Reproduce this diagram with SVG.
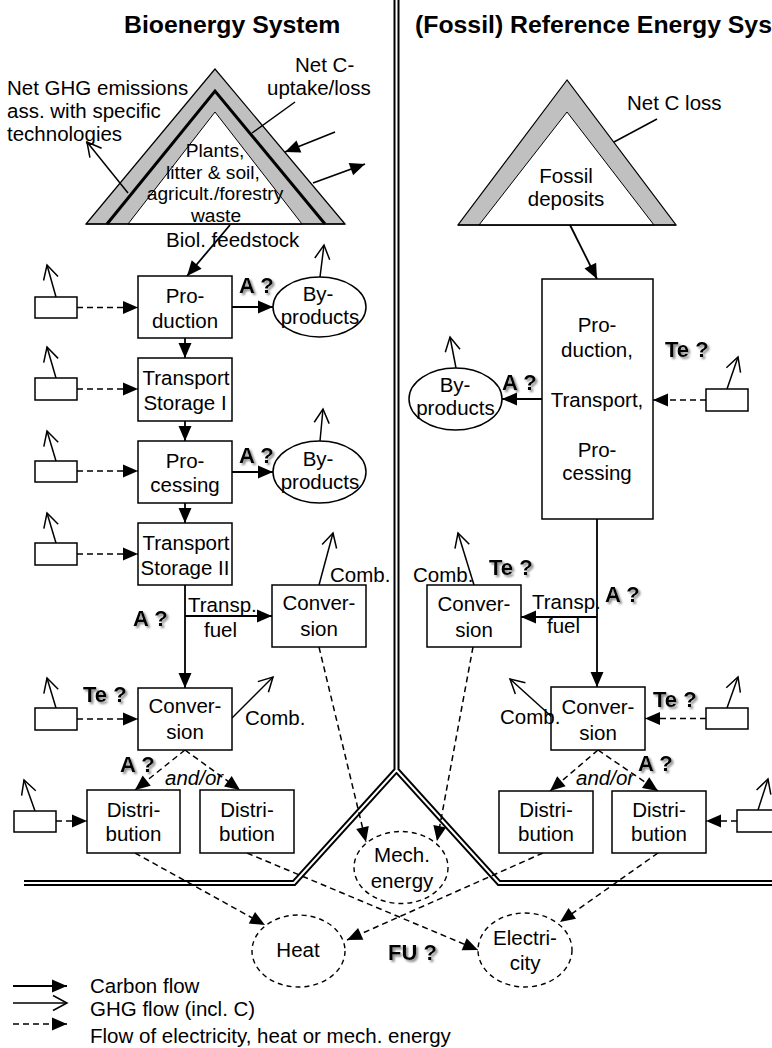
<svg xmlns="http://www.w3.org/2000/svg" width="772" height="1048" viewBox="0 0 772 1048">
<style>
.t{font-family:"Liberation Sans",Arial,Helvetica,sans-serif;font-size:20.5px;fill:#000}
.s{font-size:19.2px}
.m{text-anchor:middle}
.b{font-weight:bold;font-size:22px;filter:url(#sh)}
.i{font-style:italic}
.h{font-family:"Liberation Sans",Arial,Helvetica,sans-serif;font-weight:bold;font-size:24.8px;fill:#000}
.box{fill:#fff;stroke:#000;stroke-width:1.5}
.el{fill:#fff;stroke:#000;stroke-width:1.5}
.de{fill:#fff;stroke:#000;stroke-width:1.4;stroke-dasharray:5,4}
.c{fill:none;stroke:#000;stroke-width:1.8;marker-end:url(#fa)}
.g{fill:none;stroke:#000;stroke-width:1.5;marker-end:url(#oa)}
.d{fill:none;stroke:#000;stroke-width:1.5;stroke-dasharray:6,4;marker-end:url(#fa)}
.ln{fill:none;stroke:#000;stroke-width:1.5}
.gray{fill:#c0c0c0;stroke:#000;stroke-width:1.2}
.wt{fill:#fff;stroke:#000;stroke-width:1}
</style>
<defs>
<marker id="fa" markerWidth="16" markerHeight="14" refX="15" refY="6.5" orient="auto" markerUnits="userSpaceOnUse" overflow="visible"><path d="M0,0 L15,6.5 L0,13 z" fill="#000"/></marker>
<marker id="oa" markerWidth="16" markerHeight="16" refX="15" refY="7.5" orient="auto" markerUnits="userSpaceOnUse" overflow="visible"><path d="M1,0 L15,7.5 L1,15" fill="none" stroke="#000" stroke-width="1.5"/></marker>
<filter id="sh" x="-10%" y="-20%" width="130%" height="150%"><feGaussianBlur in="SourceAlpha" stdDeviation="0.8"/><feOffset dx="1.5" dy="1.5" result="o"/><feFlood flood-color="#888"/><feComposite in2="o" operator="in"/><feMerge><feMergeNode/><feMergeNode in="SourceGraphic"/></feMerge></filter>
</defs>
<rect width="772" height="1048" fill="#fff"/>

<g id="titles">
<text class="h" x="124" y="33">Bioenergy System</text>
<text class="h" x="415" y="33">(Fossil) Reference Energy Sys</text>
</g>

<g id="divider">
<path d="M396.5,0 V772 M24,883 H294 L396.5,770 L499,883 H772" fill="none" stroke="#000" stroke-width="6"/>
<path d="M396.5,0 V772 M24,883 H294 L396.5,770 L499,883 H772" fill="none" stroke="#fff" stroke-width="2"/>
</g>

<g id="bio-stock">
<polygon class="gray" points="215,69 86,224 345,224"/>
<polyline points="107,224 215,91 325,224" fill="none" stroke="#000" stroke-width="3"/>
<polygon class="wt" points="215,112 128,224 302,224"/>
<line x1="86" y1="224" x2="345" y2="224" stroke="#000" stroke-width="1.5"/>
<text class="t s m" x="215" y="157">Plants,</text>
<text class="t s m" x="213" y="178.5">litter &amp; soil,</text>
<text class="t s m" x="215" y="200">agricult./forestry</text>
<text class="t s m" x="216" y="221.5">waste</text>
</g>

<g id="fossil-stock">
<polygon class="gray" points="567,80 458,225 676,225"/>
<polygon class="wt" points="567,112 479,225 654,225"/>
<line x1="458" y1="225" x2="676" y2="225" stroke="#000" stroke-width="1.5"/>
<text class="t m" x="566" y="183">Fossil</text>
<text class="t m" x="566" y="206">deposits</text>
</g>

<g id="connectors">
<line class="ln" x1="295" y1="102" x2="252" y2="133"/>
<line class="ln" x1="657" y1="119" x2="614" y2="142"/>
<line class="c" x1="335" y1="132" x2="285" y2="152"/>
<line class="c" x1="313" y1="183" x2="365" y2="164"/>
<line class="g" x1="128" y1="193" x2="87" y2="142"/>
<line class="c" x1="230" y1="225" x2="187" y2="276"/>
<line class="c" x1="232" y1="307" x2="273" y2="307"/>
<line class="c" x1="185" y1="338" x2="185" y2="358"/>
<line class="c" x1="185" y1="421" x2="185" y2="441"/>
<line class="c" x1="232" y1="472" x2="273" y2="472"/>
<line class="c" x1="185" y1="503" x2="185" y2="523"/>
<line class="c" x1="185" y1="585" x2="185" y2="688"/>
<line class="c" x1="185" y1="616" x2="272" y2="616"/>
<line class="g" x1="320" y1="277" x2="324" y2="245"/>
<line class="g" x1="320" y1="441" x2="323" y2="409"/>
<line class="g" x1="56" y1="297" x2="47" y2="265"/>
<line class="g" x1="56" y1="378" x2="47" y2="347"/>
<line class="g" x1="56" y1="461" x2="47" y2="431"/>
<line class="g" x1="56" y1="543" x2="47" y2="513"/>
<line class="g" x1="56" y1="708" x2="47" y2="678"/>
<line class="g" x1="35" y1="811" x2="24" y2="780"/>
<line class="g" x1="319" y1="585" x2="333" y2="533"/>
<line class="g" x1="232" y1="718" x2="273" y2="677"/>
<line class="d" x1="77" y1="307.5" x2="138" y2="307.5"/>
<line class="d" x1="77" y1="389" x2="138" y2="389"/>
<line class="d" x1="77" y1="471" x2="138" y2="471"/>
<line class="d" x1="77" y1="554" x2="138" y2="554"/>
<line class="d" x1="77" y1="719" x2="138" y2="719"/>
<line class="d" x1="56" y1="821" x2="87" y2="821"/>
<line class="d" x1="185" y1="750" x2="135" y2="790"/>
<line class="d" x1="185" y1="750" x2="240" y2="790"/>
<line class="d" x1="319" y1="647" x2="366" y2="842"/>
<line class="d" x1="135" y1="853" x2="265" y2="925"/>
<line class="d" x1="247" y1="853" x2="478" y2="950"/>

<line class="c" x1="570" y1="225" x2="597" y2="279"/>
<line class="c" x1="542" y1="399" x2="502" y2="399"/>
<line class="c" x1="597" y1="519" x2="597" y2="687"/>
<line class="c" x1="597" y1="617" x2="521" y2="617"/>
<line class="g" x1="456" y1="368" x2="450" y2="337"/>
<line class="g" x1="727" y1="389" x2="738" y2="357"/>
<line class="g" x1="474" y1="585" x2="458" y2="533"/>
<line class="g" x1="552" y1="717" x2="510" y2="679"/>
<line class="g" x1="727" y1="708" x2="738" y2="677"/>
<line class="g" x1="758" y1="810" x2="768" y2="779"/>
<line class="d" x1="706" y1="400" x2="653" y2="400"/>
<line class="d" x1="706" y1="718.5" x2="645" y2="718.5"/>
<line class="d" x1="737" y1="821" x2="706" y2="821"/>
<line class="d" x1="598" y1="750" x2="550" y2="791"/>
<line class="d" x1="598" y1="750" x2="658" y2="791"/>
<line class="d" x1="473" y1="647" x2="437" y2="841"/>
<line class="d" x1="543" y1="853" x2="347" y2="940"/>
<line class="d" x1="658" y1="853" x2="560" y2="922"/>
</g>

<g id="bio-production">
<rect class="box" x="138" y="276" width="94" height="62"/>
<text class="t m" x="185" y="303">Pro-</text>
<text class="t m" x="185" y="328">duction</text>
</g>
<g id="bio-byproducts-1">
<ellipse class="el" cx="319.5" cy="307" rx="46.5" ry="30"/>
<text class="t m" x="318" y="301">By-</text>
<text class="t m" x="320" y="324">products</text>
</g>
<g id="bio-transport-1">
<rect class="box" x="138" y="358" width="94" height="63"/>
<text class="t m" x="186" y="385">Transport</text>
<text class="t m" x="185" y="410">Storage I</text>
</g>
<g id="bio-processing">
<rect class="box" x="138" y="441" width="94" height="62"/>
<text class="t m" x="185" y="468">Pro-</text>
<text class="t m" x="185" y="492">cessing</text>
</g>
<g id="bio-byproducts-2">
<ellipse class="el" cx="319.5" cy="472" rx="46.5" ry="31"/>
<text class="t m" x="318" y="466">By-</text>
<text class="t m" x="320" y="489">products</text>
</g>
<g id="bio-transport-2">
<rect class="box" x="138" y="523" width="94" height="62"/>
<text class="t m" x="186" y="550">Transport</text>
<text class="t m" x="185" y="575">Storage II</text>
</g>
<g id="bio-conversion-fuel">
<rect class="box" x="272" y="585" width="94" height="62"/>
<text class="t m" x="319" y="610">Conver-</text>
<text class="t m" x="319" y="636">sion</text>
</g>
<g id="bio-conversion">
<rect class="box" x="138" y="688" width="94" height="62"/>
<text class="t m" x="185" y="713">Conver-</text>
<text class="t m" x="185" y="739">sion</text>
</g>
<g id="bio-distribution-1">
<rect class="box" x="87" y="790" width="93" height="63"/>
<text class="t m" x="133.5" y="817">Distri-</text>
<text class="t m" x="133.5" y="841">bution</text>
</g>
<g id="bio-distribution-2">
<rect class="box" x="200" y="790" width="94" height="63"/>
<text class="t m" x="247" y="817">Distri-</text>
<text class="t m" x="247" y="841">bution</text>
</g>
<g id="bio-emitters">
<rect class="box" x="35" y="297" width="42" height="21"/>
<rect class="box" x="35" y="378" width="42" height="22"/>
<rect class="box" x="35" y="461" width="42" height="21"/>
<rect class="box" x="35" y="543" width="42" height="22"/>
<rect class="box" x="35" y="708" width="42" height="22"/>
<rect class="box" x="14" y="811" width="42" height="21"/>
</g>

<g id="fossil-ptp">
<rect class="box" x="542" y="279" width="111" height="240"/>
<text class="t m" x="597" y="332">Pro-</text>
<text class="t m" x="597" y="357">duction,</text>
<text class="t m" x="597" y="407">Transport,</text>
<text class="t m" x="597" y="457">Pro-</text>
<text class="t m" x="597" y="480">cessing</text>
</g>
<g id="fossil-byproducts">
<ellipse class="el" cx="455.5" cy="399" rx="46.5" ry="31"/>
<text class="t m" x="455" y="392">By-</text>
<text class="t m" x="455.5" y="415">products</text>
</g>
<g id="fossil-conversion-fuel">
<rect class="box" x="427" y="585" width="94" height="62"/>
<text class="t m" x="474" y="611">Conver-</text>
<text class="t m" x="474" y="637">sion</text>
</g>
<g id="fossil-conversion">
<rect class="box" x="551" y="687" width="94" height="63"/>
<text class="t m" x="598" y="714">Conver-</text>
<text class="t m" x="598" y="740">sion</text>
</g>
<g id="fossil-distribution-1">
<rect class="box" x="499" y="791" width="94" height="62"/>
<text class="t m" x="546" y="817">Distri-</text>
<text class="t m" x="546" y="841">bution</text>
</g>
<g id="fossil-distribution-2">
<rect class="box" x="612" y="791" width="94" height="62"/>
<text class="t m" x="659" y="817">Distri-</text>
<text class="t m" x="659" y="841">bution</text>
</g>
<g id="fossil-emitters">
<rect class="box" x="706" y="389" width="42" height="22"/>
<rect class="box" x="706" y="708" width="42" height="21"/>
<path class="box" d="M772,810 H737 V832 H772"/>
</g>

<g id="mech-energy">
<ellipse class="de" cx="401" cy="867.5" rx="47" ry="36"/>
<text class="t m" x="402" y="862">Mech.</text>
<text class="t m" x="402" y="888">energy</text>
</g>
<g id="heat">
<ellipse class="de" cx="298.5" cy="951" rx="46.5" ry="36"/>
<text class="t m" x="298" y="957">Heat</text>
</g>
<g id="electricity">
<ellipse class="de" cx="525" cy="950" rx="47" ry="37"/>
<text class="t m" x="525" y="945">Electri-</text>
<text class="t m" x="525" y="970">city</text>
</g>

<g id="labels">
<text class="t" x="7" y="95">Net GHG emissions</text>
<text class="t" x="7" y="118">ass. with specific</text>
<text class="t" x="7" y="141">technologies</text>
<text class="t" x="295" y="72">Net C-</text>
<text class="t" x="267" y="95">uptake/loss</text>
<text class="t" x="166" y="247">Biol. feedstock</text>
<text class="t" x="627" y="109.5">Net C loss</text>
<text class="t b" x="239" y="293">A ?</text>
<text class="t b" x="239" y="463">A ?</text>
<text class="t b" x="133" y="626">A ?</text>
<text class="t b" x="83" y="702">Te ?</text>
<text class="t b" x="120" y="772">A ?</text>
<text class="t i" x="165" y="785">and/or</text>
<text class="t" x="188" y="612">Transp.</text>
<text class="t" x="204" y="637">fuel</text>
<text class="t" x="330" y="582">Comb.</text>
<text class="t" x="245" y="725">Comb.</text>
<text class="t b" x="502" y="390">A ?</text>
<text class="t b" x="665" y="357">Te ?</text>
<text class="t b" x="605" y="602">A ?</text>
<text class="t b" x="489" y="575">Te ?</text>
<text class="t b" x="653" y="707">Te ?</text>
<text class="t b" x="638" y="771">A ?</text>
<text class="t i" x="576" y="785">and/or</text>
<text class="t" x="532" y="609">Transp.</text>
<text class="t" x="547" y="633">fuel</text>
<text class="t" x="413" y="582">Comb.</text>
<text class="t" x="500" y="724">Comb.</text>
<text class="t b" x="388" y="960">FU ?</text>
</g>

<g id="legend">
<line class="c" x1="13" y1="986" x2="67" y2="986"/>
<line class="g" x1="13" y1="1003" x2="67" y2="1003"/>
<line class="d" x1="13" y1="1024" x2="67" y2="1024"/>
<text class="t" x="90" y="993">Carbon flow</text>
<text class="t" x="90" y="1016">GHG flow (incl. C)</text>
<text class="t" x="90" y="1043">Flow of electricity, heat or mech. energy</text>
</g>
</svg>
